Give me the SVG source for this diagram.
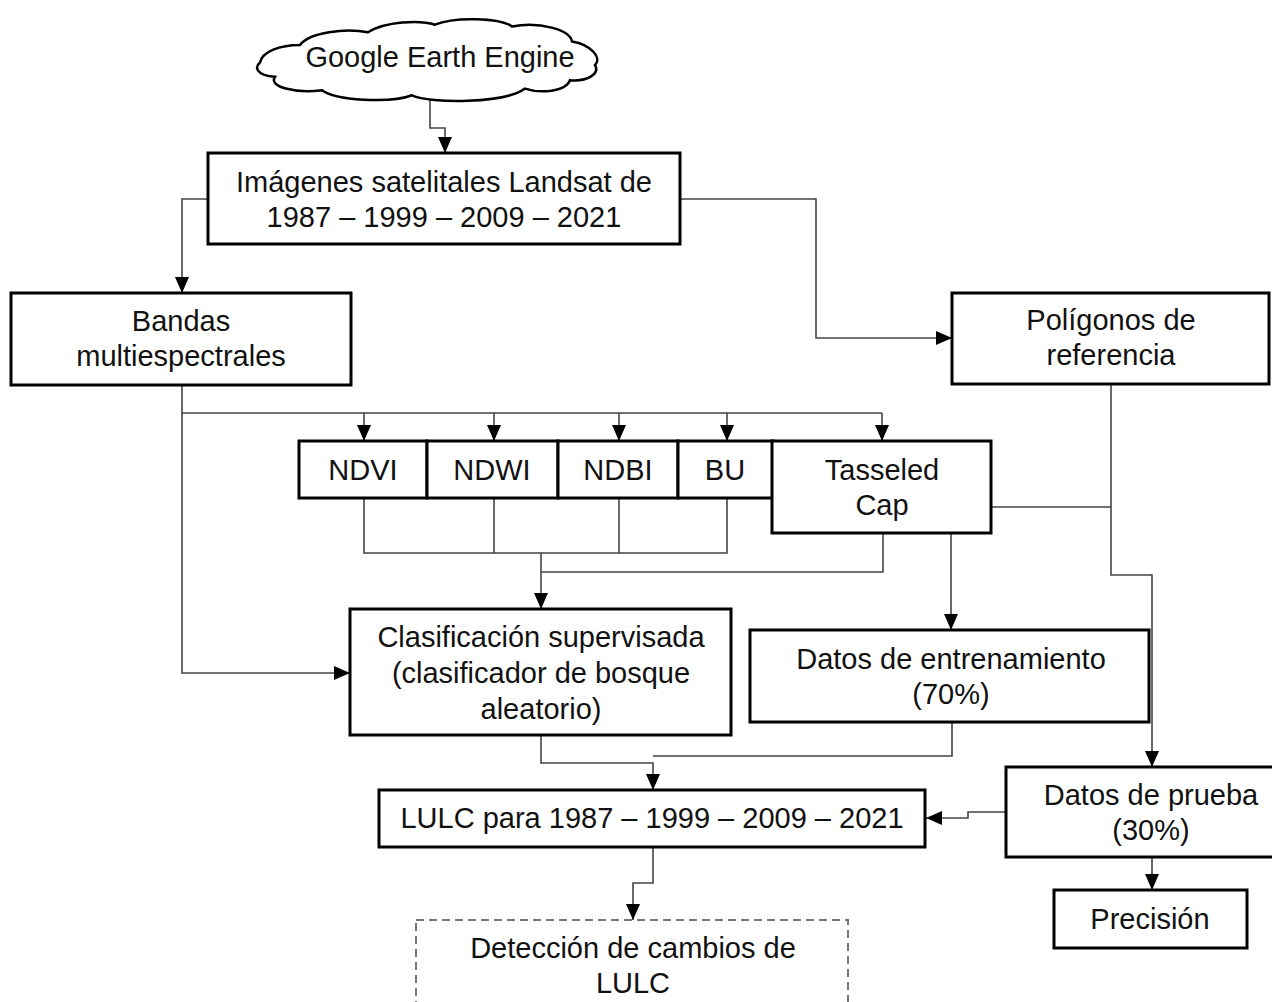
<svg xmlns="http://www.w3.org/2000/svg" width="1272" height="1002" viewBox="0 0 1272 1002">
<style>
.box{fill:#fff;stroke:#000;stroke-width:3}
.dash{fill:#fff;stroke:#777;stroke-width:2;stroke-dasharray:8 5}
.t{font-family:"Liberation Sans",Arial,sans-serif;font-size:29px;fill:#111;text-anchor:middle}
.c{fill:none;stroke:#444;stroke-width:1.6}
</style>
<defs>
<marker id="ah" viewBox="0 0 16 14" refX="16" refY="7" markerWidth="16" markerHeight="14" orient="auto" markerUnits="userSpaceOnUse">
<path d="M0,0 L16,7 L0,14 Z" fill="#000"/>
</marker>
</defs>
<rect width="1272" height="1002" fill="#fff"/>
<g id="connectors">
<path class="c" d="M430,99 V128 H445 V153" marker-end="url(#ah)"/>
<path class="c" d="M208,199 H182 V293" marker-end="url(#ah)"/>
<path class="c" d="M680,199 H816 V338 H952" marker-end="url(#ah)"/>
<path class="c" d="M182,385 V413 H882"/>
<path class="c" d="M364,413 V441" marker-end="url(#ah)"/>
<path class="c" d="M494,413 V441" marker-end="url(#ah)"/>
<path class="c" d="M619,413 V441" marker-end="url(#ah)"/>
<path class="c" d="M727,413 V441" marker-end="url(#ah)"/>
<path class="c" d="M882,413 V441" marker-end="url(#ah)"/>
<path class="c" d="M182,413 V673 H350" marker-end="url(#ah)"/>
<path class="c" d="M364,498 V553 H727 V498"/>
<path class="c" d="M494,498 V553"/>
<path class="c" d="M619,498 V553"/>
<path class="c" d="M541,553 V609" marker-end="url(#ah)"/>
<path class="c" d="M883,533 V572 H541"/>
<path class="c" d="M991,507 H1111"/>
<path class="c" d="M1111,385 V575 H1152 V767" marker-end="url(#ah)"/>
<path class="c" d="M951,533 V630" marker-end="url(#ah)"/>
<path class="c" d="M541,735 V763 H653 V790" marker-end="url(#ah)"/>
<path class="c" d="M952,722 V756 H653"/>
<path class="c" d="M1006,812 H968 V818 H926" marker-end="url(#ah)"/>
<path class="c" d="M1152,857 V890" marker-end="url(#ah)"/>
<path class="c" d="M653,847 V883 H633 V920" marker-end="url(#ah)"/>
</g>
<g id="gee">
<path transform="matrix(1 0 0 0.84 0 9.6)" vector-effect="non-scaling-stroke" d="M260,63 C262,50 280,42 300,42 C310,27 345,22 368,27 C385,14 420,12 435,18 C455,8 500,10 512,20 C540,14 570,24 572,38 C592,42 602,58 595,66 C600,76 588,86 570,84 C566,98 540,100 525,94 C505,112 430,112 412,102 C390,112 335,108 322,96 C295,100 268,92 275,80 C255,78 255,68 260,63 Z" fill="#fff" stroke="#000" stroke-width="2.5"/>
<text class="t" x="440" y="67">Google Earth Engine</text>
</g>
<g id="landsat">
<rect class="box" x="208" y="153" width="472" height="91"/>
<text class="t" x="444" y="192">Imágenes satelitales Landsat de</text>
<text class="t" x="444" y="227">1987 – 1999 – 2009 – 2021</text>
</g>
<g id="bandas">
<rect class="box" x="11" y="293" width="340" height="92"/>
<text class="t" x="181" y="331">Bandas</text>
<text class="t" x="181" y="366">multiespectrales</text>
</g>
<g id="poligonos">
<rect class="box" x="952" y="293" width="317" height="91"/>
<text class="t" x="1111" y="330">Polígonos de</text>
<text class="t" x="1111" y="365">referencia</text>
</g>
<g id="ndvi">
<rect class="box" x="299" y="441" width="128" height="57"/>
<text class="t" x="363" y="480">NDVI</text>
</g>
<g id="ndwi">
<rect class="box" x="427" y="441" width="131" height="57"/>
<text class="t" x="492" y="480">NDWI</text>
</g>
<g id="ndbi">
<rect class="box" x="558" y="441" width="120" height="57"/>
<text class="t" x="618" y="480">NDBI</text>
</g>
<g id="bu">
<rect class="box" x="678" y="441" width="95" height="57"/>
<text class="t" x="725" y="480">BU</text>
</g>
<g id="tasseled">
<rect class="box" x="772" y="441" width="219" height="92"/>
<text class="t" x="882" y="480">Tasseled</text>
<text class="t" x="882" y="515">Cap</text>
</g>
<g id="clasificacion">
<rect class="box" x="350" y="609" width="381" height="126"/>
<text class="t" x="541" y="647">Clasificación supervisada</text>
<text class="t" x="541" y="683">(clasificador de bosque</text>
<text class="t" x="541" y="719">aleatorio)</text>
</g>
<g id="entrenamiento">
<rect class="box" x="750" y="630" width="399" height="92"/>
<text class="t" x="951" y="669">Datos de entrenamiento</text>
<text class="t" x="951" y="704">(70%)</text>
</g>
<g id="lulc">
<rect class="box" x="379" y="790" width="546" height="57"/>
<text class="t" x="652" y="828">LULC para 1987 – 1999 – 2009 – 2021</text>
</g>
<g id="prueba">
<rect class="box" x="1006" y="767" width="292" height="90"/>
<text class="t" x="1151" y="805">Datos de prueba</text>
<text class="t" x="1151" y="840">(30%)</text>
</g>
<g id="precision">
<rect class="box" x="1054" y="890" width="193" height="58"/>
<text class="t" x="1150" y="929">Precisión</text>
</g>
<g id="deteccion">
<rect class="dash" x="416" y="920" width="432" height="100"/>
<text class="t" x="633" y="958">Detección de cambios de</text>
<text class="t" x="633" y="993">LULC</text>
</g>
</svg>
